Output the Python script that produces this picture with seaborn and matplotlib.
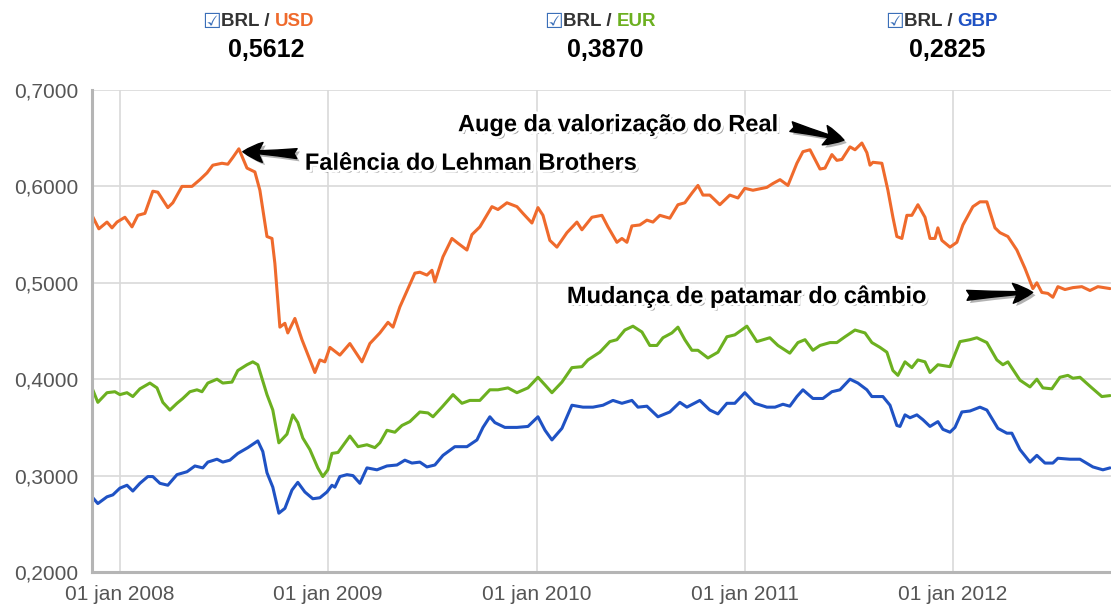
import matplotlib
matplotlib.use("Agg")
import matplotlib.pyplot as plt
import matplotlib.patheffects as pe
import seaborn as sns

# cotação BRL -> moeda estrangeira, leitura do gráfico (x em anos decimais)
usd_x = [2007.866, 2007.899, 2007.938, 2007.962, 2007.986, 2008.024, 2008.058, 2008.086, 2008.120, 2008.158,
         2008.182, 2008.230, 2008.254, 2008.298, 2008.346, 2008.384, 2008.418, 2008.446, 2008.490, 2008.518,
         2008.542, 2008.571, 2008.610, 2008.648, 2008.672, 2008.706, 2008.730, 2008.744, 2008.768, 2008.792,
         2008.806, 2008.840, 2008.874, 2008.912, 2008.936, 2008.960, 2008.984, 2009.008, 2009.056, 2009.104,
         2009.162, 2009.200, 2009.248, 2009.287, 2009.311, 2009.344, 2009.416, 2009.440, 2009.474, 2009.498,
         2009.512, 2009.551, 2009.594, 2009.623, 2009.666, 2009.690, 2009.728, 2009.786, 2009.815, 2009.858,
         2009.906, 2009.935, 2009.978, 2010.007, 2010.031, 2010.064, 2010.098, 2010.146, 2010.194, 2010.218,
         2010.266, 2010.314, 2010.343, 2010.386, 2010.410, 2010.434, 2010.458, 2010.496, 2010.530, 2010.559,
         2010.592, 2010.640, 2010.679, 2010.712, 2010.746, 2010.775, 2010.799, 2010.832, 2010.880, 2010.928,
         2010.967, 2011.000, 2011.039, 2011.106, 2011.135, 2011.169, 2011.207, 2011.250, 2011.279, 2011.313,
         2011.361, 2011.385, 2011.418, 2011.442, 2011.466, 2011.505, 2011.529, 2011.562, 2011.586, 2011.601,
         2011.615, 2011.658, 2011.687, 2011.711, 2011.730, 2011.754, 2011.778, 2011.802, 2011.831, 2011.865,
         2011.889, 2011.913, 2011.927, 2011.946, 2011.985, 2012.018, 2012.047, 2012.095, 2012.129, 2012.162,
         2012.201, 2012.225, 2012.263, 2012.306, 2012.345, 2012.383, 2012.402, 2012.426, 2012.455, 2012.479,
         2012.503, 2012.537, 2012.575, 2012.618, 2012.657, 2012.695, 2012.753]
usd_y = [0.570, 0.556, 0.563, 0.557, 0.563, 0.568, 0.558, 0.570, 0.572, 0.595,
         0.594, 0.578, 0.583, 0.600, 0.600, 0.607, 0.614, 0.622, 0.624, 0.623,
         0.630, 0.639, 0.619, 0.615, 0.596, 0.548, 0.546, 0.520, 0.454, 0.458,
         0.448, 0.463, 0.441, 0.420, 0.407, 0.420, 0.418, 0.433, 0.425, 0.437,
         0.418, 0.437, 0.448, 0.459, 0.454, 0.475, 0.510, 0.511, 0.508, 0.513,
         0.501, 0.527, 0.546, 0.541, 0.534, 0.550, 0.558, 0.579, 0.576, 0.583,
         0.579, 0.572, 0.562, 0.578, 0.570, 0.544, 0.537, 0.552, 0.563, 0.555,
         0.568, 0.570, 0.558, 0.542, 0.546, 0.542, 0.559, 0.560, 0.565, 0.563,
         0.570, 0.567, 0.581, 0.583, 0.593, 0.601, 0.591, 0.591, 0.581, 0.591,
         0.588, 0.598, 0.596, 0.599, 0.603, 0.607, 0.601, 0.624, 0.636, 0.638,
         0.618, 0.619, 0.633, 0.627, 0.628, 0.641, 0.638, 0.645, 0.635, 0.622,
         0.625, 0.624, 0.596, 0.568, 0.548, 0.546, 0.570, 0.570, 0.581, 0.568,
         0.546, 0.546, 0.557, 0.544, 0.537, 0.542, 0.560, 0.579, 0.584, 0.584,
         0.557, 0.552, 0.548, 0.534, 0.515, 0.494, 0.500, 0.490, 0.489, 0.485,
         0.496, 0.493, 0.495, 0.496, 0.492, 0.496, 0.494]

eur_x = [2007.866, 2007.894, 2007.938, 2007.976, 2008.000, 2008.034, 2008.062, 2008.096, 2008.144, 2008.178,
         2008.206, 2008.240, 2008.274, 2008.302, 2008.336, 2008.370, 2008.394, 2008.422, 2008.466, 2008.494,
         2008.538, 2008.566, 2008.610, 2008.638, 2008.662, 2008.706, 2008.734, 2008.763, 2008.802, 2008.830,
         2008.854, 2008.878, 2008.912, 2008.950, 2008.974, 2008.998, 2009.018, 2009.047, 2009.104, 2009.143,
         2009.186, 2009.224, 2009.248, 2009.282, 2009.320, 2009.354, 2009.392, 2009.440, 2009.479, 2009.503,
         2009.546, 2009.599, 2009.642, 2009.680, 2009.728, 2009.776, 2009.815, 2009.863, 2009.906, 2009.959,
         2010.007, 2010.041, 2010.074, 2010.122, 2010.170, 2010.218, 2010.247, 2010.304, 2010.352, 2010.386,
         2010.424, 2010.463, 2010.506, 2010.544, 2010.578, 2010.607, 2010.650, 2010.679, 2010.712, 2010.746,
         2010.775, 2010.823, 2010.871, 2010.914, 2010.952, 2011.010, 2011.058, 2011.120, 2011.159, 2011.216,
         2011.255, 2011.289, 2011.327, 2011.361, 2011.409, 2011.442, 2011.481, 2011.529, 2011.577, 2011.610,
         2011.649, 2011.682, 2011.711, 2011.735, 2011.769, 2011.802, 2011.831, 2011.865, 2011.889, 2011.927,
         2011.985, 2012.033, 2012.081, 2012.114, 2012.162, 2012.210, 2012.239, 2012.263, 2012.321, 2012.369,
         2012.402, 2012.431, 2012.474, 2012.513, 2012.551, 2012.575, 2012.609, 2012.666, 2012.714, 2012.753]
eur_y = [0.391, 0.376, 0.386, 0.387, 0.384, 0.386, 0.382, 0.390, 0.396, 0.391,
         0.376, 0.368, 0.375, 0.380, 0.387, 0.389, 0.387, 0.396, 0.400, 0.396,
         0.397, 0.409, 0.415, 0.418, 0.415, 0.384, 0.368, 0.334, 0.343, 0.363,
         0.355, 0.339, 0.327, 0.308, 0.299, 0.306, 0.323, 0.324, 0.341, 0.330,
         0.332, 0.329, 0.334, 0.347, 0.345, 0.352, 0.356, 0.366, 0.365, 0.361,
         0.371, 0.384, 0.375, 0.378, 0.378, 0.389, 0.389, 0.391, 0.386, 0.391,
         0.402, 0.394, 0.386, 0.397, 0.412, 0.413, 0.420, 0.428, 0.439, 0.441,
         0.451, 0.455, 0.449, 0.435, 0.435, 0.443, 0.448, 0.454, 0.441, 0.430,
         0.430, 0.422, 0.428, 0.444, 0.446, 0.455, 0.439, 0.443, 0.435, 0.427,
         0.438, 0.441, 0.430, 0.435, 0.438, 0.438, 0.444, 0.451, 0.448, 0.438,
         0.433, 0.428, 0.409, 0.404, 0.418, 0.412, 0.420, 0.418, 0.407, 0.415,
         0.413, 0.439, 0.441, 0.443, 0.438, 0.420, 0.415, 0.418, 0.399, 0.392,
         0.400, 0.391, 0.390, 0.402, 0.404, 0.401, 0.402, 0.391, 0.382, 0.383]

gbp_x = [2007.866, 2007.894, 2007.938, 2007.966, 2008.000, 2008.034, 2008.062, 2008.096, 2008.134, 2008.158,
         2008.192, 2008.230, 2008.274, 2008.322, 2008.360, 2008.398, 2008.422, 2008.466, 2008.494, 2008.528,
         2008.566, 2008.614, 2008.662, 2008.686, 2008.706, 2008.734, 2008.763, 2008.792, 2008.826, 2008.854,
         2008.888, 2008.926, 2008.960, 2008.994, 2009.018, 2009.032, 2009.056, 2009.090, 2009.119, 2009.152,
         2009.186, 2009.234, 2009.282, 2009.330, 2009.368, 2009.402, 2009.440, 2009.474, 2009.512, 2009.551,
         2009.608, 2009.666, 2009.714, 2009.743, 2009.776, 2009.800, 2009.848, 2009.906, 2009.959, 2010.007,
         2010.041, 2010.074, 2010.122, 2010.170, 2010.223, 2010.271, 2010.319, 2010.367, 2010.410, 2010.458,
         2010.487, 2010.530, 2010.583, 2010.640, 2010.688, 2010.722, 2010.784, 2010.832, 2010.871, 2010.914,
         2010.952, 2011.000, 2011.048, 2011.106, 2011.145, 2011.183, 2011.216, 2011.250, 2011.279, 2011.327,
         2011.375, 2011.418, 2011.457, 2011.505, 2011.543, 2011.586, 2011.610, 2011.663, 2011.697, 2011.730,
         2011.745, 2011.769, 2011.793, 2011.826, 2011.855, 2011.889, 2011.927, 2011.951, 2011.985, 2012.009,
         2012.042, 2012.081, 2012.129, 2012.162, 2012.215, 2012.258, 2012.282, 2012.321, 2012.369, 2012.402,
         2012.441, 2012.479, 2012.503, 2012.561, 2012.609, 2012.671, 2012.719, 2012.753]
gbp_y = [0.278, 0.271, 0.278, 0.280, 0.287, 0.290, 0.284, 0.292, 0.299, 0.299,
         0.292, 0.290, 0.301, 0.304, 0.310, 0.308, 0.314, 0.317, 0.314, 0.316,
         0.323, 0.329, 0.336, 0.325, 0.303, 0.288, 0.261, 0.266, 0.285, 0.293,
         0.283, 0.276, 0.277, 0.283, 0.290, 0.288, 0.299, 0.301, 0.300, 0.292,
         0.308, 0.306, 0.310, 0.311, 0.316, 0.313, 0.314, 0.309, 0.311, 0.321,
         0.330, 0.330, 0.337, 0.350, 0.361, 0.355, 0.350, 0.350, 0.351, 0.361,
         0.347, 0.337, 0.349, 0.373, 0.371, 0.371, 0.373, 0.378, 0.375, 0.378,
         0.371, 0.372, 0.361, 0.366, 0.376, 0.371, 0.378, 0.368, 0.364, 0.375,
         0.375, 0.386, 0.375, 0.371, 0.371, 0.374, 0.372, 0.382, 0.389, 0.380,
         0.380, 0.387, 0.389, 0.400, 0.396, 0.389, 0.382, 0.382, 0.373, 0.352,
         0.351, 0.363, 0.360, 0.363, 0.358, 0.351, 0.356, 0.348, 0.345, 0.350,
         0.366, 0.367, 0.371, 0.368, 0.349, 0.344, 0.344, 0.327, 0.314, 0.321,
         0.313, 0.313, 0.318, 0.317, 0.317, 0.309, 0.306, 0.308]

currencies = ["USD", "EUR", "GBP"]
latest = ["0,5612", "0,3870", "0,2825"]
colors = ["#ef6a2c", "#6cb020", "#1f52c4"]

years = [2008, 2009, 2010, 2011, 2012]
year_labels = ["01 jan 2008", "01 jan 2009", "01 jan 2010", "01 jan 2011", "01 jan 2012"]
yticks = [0.2, 0.3, 0.4, 0.5, 0.6, 0.7]
ytick_labels = ["0,2000", "0,3000", "0,4000", "0,5000", "0,6000", "0,7000"]

sns.set_theme(style="whitegrid", rc={"grid.color": "#d9d9d9", "grid.linewidth": 1.2})
plt.rcParams["font.family"] = ["Liberation Sans", "DejaVu Sans"]

fig = plt.figure(figsize=(11.11, 6.10), dpi=100)
ax = fig.add_axes([92 / 1111, 1 - 572 / 610, 1 - 92 / 1111, (572 - 90) / 610])

series = [(usd_x, usd_y), (eur_x, eur_y), (gbp_x, gbp_y)]
for (xs, ys), c in zip(series, colors):
    sns.lineplot(x=xs, y=ys, color=c, linewidth=2.2, sort=False, estimator=None, ax=ax)

ax.set_xlim(2007.866, 2012.758)
ax.set_ylim(0.2, 0.7)
ax.set_xticks(years)
ax.set_xticklabels(year_labels)
ax.set_yticks(yticks)
ax.set_yticklabels(ytick_labels)
ax.set_xlabel("")
ax.set_ylabel("")

for s in ["top", "right"]:
    ax.spines[s].set_visible(False)
for s in ["left", "bottom"]:
    ax.spines[s].set_color("#b5b5b5")
    ax.spines[s].set_linewidth(2.2)
ax.tick_params(axis="both", direction="out", length=7, width=2, color="#b5b5b5",
               labelcolor="#555555", labelsize=15)
ax.tick_params(axis="y", pad=3)
ax.tick_params(axis="x", pad=2)
ax.grid(True, color="#d9d9d9", linewidth=1.2)

# anotações com sombra
shadow = [pe.SimplePatchShadow(offset=(2, -2), shadow_rgbFace="black", alpha=0.35),
          pe.Stroke(linewidth=4, foreground="white"), pe.Normal()]
notes = [
    ("Falência do Lehman Brothers", (2008.888, 0.624), (2008.590, 0.636), (2008.850, 0.634)),
    ("Auge da valorização do Real", (2009.623, 0.664), (2011.476, 0.648), (2011.222, 0.662)),
    ("Mudança de patamar do câmbio", (2010.146, 0.486), (2012.382, 0.490), (2012.066, 0.487)),
]
for txt, pos, tip, tail in notes:
    ax.text(pos[0], pos[1], txt, fontsize=17, fontweight="bold", color="black",
            ha="left", va="center", path_effects=shadow, zorder=5)
    ax.annotate("", xy=tip, xytext=tail,
                arrowprops=dict(arrowstyle="fancy,head_length=1.1,head_width=1.1,tail_width=0.55",
                                mutation_scale=13, fc="black", ec="black", shrinkA=0, shrinkB=0,
                                path_effects=[pe.SimplePatchShadow(offset=(2, -2), alpha=0.3), pe.Normal()]),
                zorder=5)

# cabeçalho com as moedas
starts = [202 / 1111, 544 / 1111, 885 / 1111]
centers = [266 / 1111, 605 / 1111, 947 / 1111]
for cur, val, c, x0, xc in zip(currencies, latest, colors, starts, centers):
    box = fig.text(x0, 1 - 22 / 610, "☑", family="DejaVu Sans", fontsize=15,
                   color="#3b6fb8", ha="left", va="center")
    brl = ax.annotate("BRL / ", xy=(1, 0.5), xycoords=box, va="center", ha="left",
                      fontsize=13.5, fontweight="bold", color="#333333",
                      family=["Liberation Sans Narrow", "Liberation Sans"], annotation_clip=False)
    ax.annotate(cur, xy=(1, 0.5), xycoords=brl, va="center", ha="left",
                fontsize=13.5, fontweight="bold", color=c,
                family=["Liberation Sans Narrow", "Liberation Sans"], annotation_clip=False)
    fig.text(xc, 1 - 50 / 610, val, fontsize=18, fontweight="bold", color="black",
             ha="center", va="center", family=["Liberation Sans Narrow", "Liberation Sans"])

fig.savefig("out.png", dpi=100)
